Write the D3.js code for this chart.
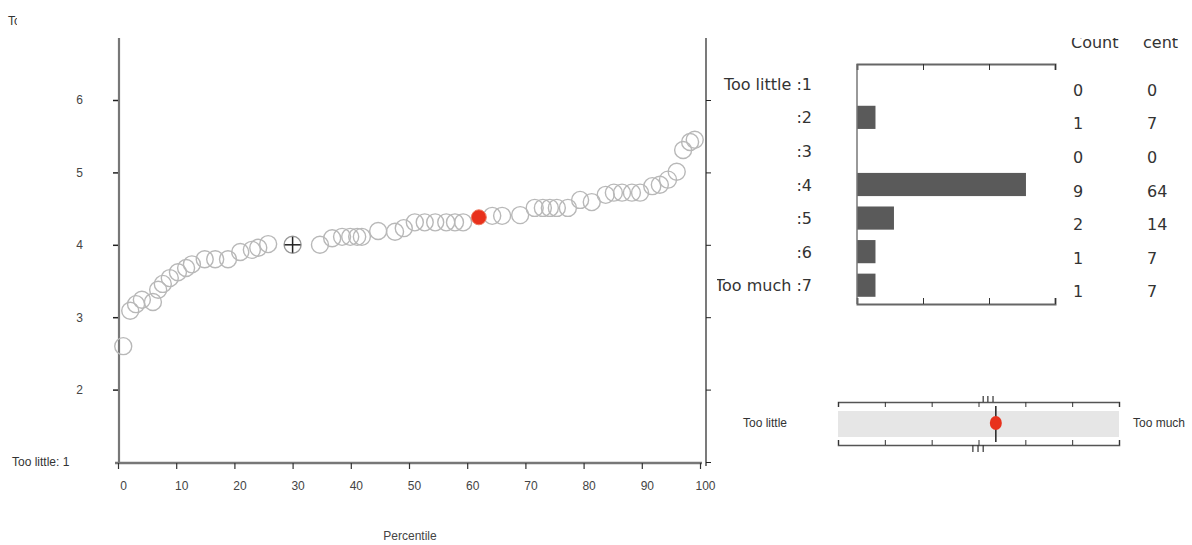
<!DOCTYPE html>
<html><head><meta charset="utf-8">
<script src="https://cdn.jsdelivr.net/npm/d3@7"></script>
<style>body{margin:0;background:#fff}svg{display:block;font-family:"Liberation Sans",Arial,sans-serif}</style>
</head><body><svg id="c" width="1192" height="545"></svg>
<script>
// ---- data ----
const percentiles = [0.9,2.1,3.1,4.1,6.0,6.9,7.7,8.9,10.3,11.7,12.7,14.9,16.7,18.9,21.0,23.0,24.1,25.8,34.7,36.8,38.5,39.9,41.1,41.9,44.7,47.6,49.1,51.0,52.7,54.5,56.4,57.9,59.3,64.3,66.0,69.1,71.6,73.0,74.2,75.4,77.3,79.4,81.4,83.8,85.2,86.6,88.3,89.7,91.8,93.1,94.5,96.0,97.1,98.3,99.1];
const scores = [2.60,3.09,3.18,3.24,3.21,3.38,3.46,3.54,3.62,3.68,3.73,3.80,3.80,3.80,3.90,3.93,3.96,4.01,4.00,4.09,4.11,4.11,4.11,4.11,4.19,4.18,4.23,4.31,4.31,4.31,4.31,4.31,4.31,4.40,4.40,4.41,4.51,4.51,4.51,4.51,4.51,4.62,4.59,4.69,4.72,4.72,4.72,4.72,4.81,4.83,4.90,5.01,5.31,5.42,5.45];
const crossPoint = {pct: 30, score: 4.0};
const highlight = {pct: 62, score: 4.38};
const yTicks = [2,3,4,5,6];
const xTicks = [0,10,20,30,40,50,60,70,80,90,100];

const categories = ["Too little :1", ":2", ":3", ":4", ":5", ":6", "Too much :7"];
const counts = [0,1,0,9,2,1,1];
const percents = [0,7,0,64,14,7,7];
const pctTicks = [0,25,50,75];

const stripTicks = [1,2,3,4,5,6,7];
const upperMarks = [4.10,4.20,4.31];
const lowerMarks = [3.88,3.99,4.10];
const meanScore = 4.37;

const svg = d3.select("#c");
const histFont = "'DejaVu Sans', sans-serif";

// ---- main scatter ----
const x = d3.scaleLinear([0,100],[118,700]);
const y = d3.scaleLinear([1,7],[462,27.6]);

// left axis
svg.append("line").attr("x1",119).attr("x2",119).attr("y1",38).attr("y2",464).attr("stroke","#777").attr("stroke-width",2.2);
const ya = svg.append("g").attr("transform","translate(118,0)")
  .call(d3.axisLeft(y).tickValues(yTicks).tickSize(5).tickPadding(30).tickFormat(d3.format("d")));
ya.select(".domain").remove();
ya.selectAll("line").attr("stroke","#222").attr("stroke-width",1.5);
ya.selectAll("text").attr("font-size",12).attr("fill","#444");

// right axis
svg.append("line").attr("x1",706).attr("x2",706).attr("y1",38).attr("y2",466).attr("stroke","#222").attr("stroke-width",1.2);
const ra = svg.append("g").attr("transform","translate(706,0)")
  .call(d3.axisRight(y).tickValues([1,2,3,4,5,6]).tickSize(5).tickFormat(""));
ra.select(".domain").remove();
ra.selectAll("line").attr("stroke","#222");

// bottom axis
svg.append("line").attr("x1",115).attr("x2",702).attr("y1",463).attr("y2",463).attr("stroke","#777").attr("stroke-width",2.5);
const xa = svg.append("g").attr("transform","translate(0,463)")
  .call(d3.axisBottom(x).tickValues(xTicks).tickSize(6).tickPadding(12));
xa.select(".domain").remove();
xa.selectAll("line").attr("stroke","#333").attr("stroke-width",1.2);
xa.selectAll("text").attr("font-size",12).attr("fill","#444").attr("dx",5);

svg.append("text").attr("x",410).attr("y",540).attr("text-anchor","middle").attr("font-size",12).attr("fill","#444").text("Percentile");
svg.append("text").attr("x",12).attr("y",466).attr("font-size",12).attr("fill","#333").text("Too little: 1");
svg.append("clipPath").attr("id","tc").append("rect").attr("x",0).attr("y",0).attr("width",17).attr("height",40);
svg.append("text").attr("clip-path","url(#tc)").attr("x",8).attr("y",25).attr("font-size",12).attr("fill","#333").text("Too much: 7");

// points
svg.append("g").selectAll("circle").data(percentiles.map((p,i)=>({p, s:scores[i]}))).join("circle")
  .attr("cx",d=>x(d.p)).attr("cy",d=>y(d.s)).attr("r",8.5)
  .attr("fill","none").attr("stroke","#b8b8b8").attr("stroke-width",1.4);
// crosshair point
svg.append("circle").attr("cx",x(crossPoint.pct)).attr("cy",y(crossPoint.score)).attr("r",8.5)
  .attr("fill","none").attr("stroke","#999").attr("stroke-width",1.4);
svg.append("line").attr("x1",x(crossPoint.pct)-8).attr("x2",x(crossPoint.pct)+8).attr("y1",y(crossPoint.score)).attr("y2",y(crossPoint.score)).attr("stroke","#222").attr("stroke-width",1.5);
svg.append("line").attr("x1",x(crossPoint.pct)).attr("x2",x(crossPoint.pct)).attr("y1",y(crossPoint.score)-8).attr("y2",y(crossPoint.score)+8).attr("stroke","#222").attr("stroke-width",1.5);
// highlight
svg.append("circle").attr("cx",x(highlight.pct)).attr("cy",y(highlight.score)).attr("r",7.5)
  .attr("fill","#e8311c").attr("stroke","#f07a60").attr("stroke-width",1);

// ---- histogram ----
const hx = d3.scaleLinear([0,75],[857,1055]);
const hy = d3.scaleBand(categories,[67,302]).paddingInner(0.31).paddingOuter(0.155);

svg.append("clipPath").attr("id","lc").append("rect").attr("x",717).attr("y",0).attr("width",200).attr("height",320);
svg.append("g").attr("clip-path","url(#lc)").selectAll("text").data(categories).join("text")
  .attr("x",812).attr("y",d=>hy(d)+hy.bandwidth()/2+6).attr("text-anchor","end")
  .attr("font-family",histFont).attr("font-size",16).attr("fill","#333").text(d=>d);

svg.append("g").selectAll("rect").data(categories).join("rect")
  .attr("x",hx(0)).attr("y",d=>hy(d)).attr("height",hy.bandwidth())
  .attr("width",(d,i)=>hx(percents[i])-hx(0)).attr("fill","#5a5a5a");

const ht = svg.append("g").attr("transform","translate(0,64)")
  .call(d3.axisBottom(hx).tickValues(pctTicks).tickSize(6).tickSizeOuter(6).tickFormat(""));
ht.select(".domain").attr("stroke","#666").attr("stroke-width",2);
ht.selectAll("line").attr("stroke","#333");
const hb = svg.append("g").attr("transform","translate(0,304)")
  .call(d3.axisTop(hx).tickValues(pctTicks).tickSize(6).tickSizeOuter(6).tickFormat(""));
hb.select(".domain").attr("stroke","#666").attr("stroke-width",2);
hb.selectAll("line").attr("stroke","#333");
svg.append("line").attr("x1",857).attr("x2",857).attr("y1",64).attr("y2",304).attr("stroke","#777").attr("stroke-width",1.5);

// columns
svg.append("clipPath").attr("id","hc").append("rect").attr("x",1000).attr("y",38).attr("width",200).attr("height",300);
svg.append("text").attr("clip-path","url(#hc)").attr("x",1071).attr("y",48).attr("font-family",histFont).attr("font-size",16).attr("fill","#333").text("Count");
svg.append("text").attr("clip-path","url(#hc)").attr("x",1143).attr("y",48).attr("font-family",histFont).attr("font-size",16).attr("fill","#333").text("cent");
svg.append("g").selectAll("text").data(counts).join("text")
  .attr("x",1073).attr("y",(d,i)=>hy(categories[i])+hy.bandwidth()/2+12)
  .attr("font-family",histFont).attr("font-size",16).attr("fill","#333").text(d=>d);
svg.append("g").selectAll("text").data(percents).join("text")
  .attr("x",1147).attr("y",(d,i)=>hy(categories[i])+hy.bandwidth()/2+12)
  .attr("font-family",histFont).attr("font-size",16).attr("fill","#333").text(d=>d);

// ---- strip ----
const sx = d3.scaleLinear([1,7],[838,1119]);
svg.append("rect").attr("x",sx(1)).attr("y",411).attr("width",sx(7)-sx(1)).attr("height",26).attr("fill","#e6e6e6");
const st = svg.append("g").attr("transform","translate(0,402)")
  .call(d3.axisBottom(sx).tickValues(stripTicks).tickSize(5).tickSizeOuter(5).tickFormat(""));
st.select(".domain").attr("stroke","#555").attr("stroke-width",1.5);
st.selectAll("line").attr("stroke","#333");
const sb = svg.append("g").attr("transform","translate(0,445)")
  .call(d3.axisTop(sx).tickValues(stripTicks).tickSize(5).tickSizeOuter(5).tickFormat(""));
sb.select(".domain").attr("stroke","#555").attr("stroke-width",1.5);
sb.selectAll("line").attr("stroke","#333");
svg.append("g").selectAll("line").data(upperMarks).join("line")
  .attr("x1",d=>sx(d)).attr("x2",d=>sx(d)).attr("y1",396).attr("y2",402).attr("stroke","#333").attr("stroke-width",1.2);
svg.append("g").selectAll("line").data(lowerMarks).join("line")
  .attr("x1",d=>sx(d)).attr("x2",d=>sx(d)).attr("y1",445).attr("y2",452).attr("stroke","#333").attr("stroke-width",1.2);
svg.append("line").attr("x1",sx(meanScore)).attr("x2",sx(meanScore)).attr("y1",406).attr("y2",442).attr("stroke","#222").attr("stroke-width",1.5);
svg.append("ellipse").attr("cx",sx(meanScore)).attr("cy",423).attr("rx",6).attr("ry",7).attr("fill","#e8311c");
svg.append("text").attr("x",743).attr("y",427).attr("font-size",12).attr("fill","#333").text("Too little");
svg.append("text").attr("x",1133).attr("y",427).attr("font-size",12).attr("fill","#333").text("Too much");
</script></body></html>
